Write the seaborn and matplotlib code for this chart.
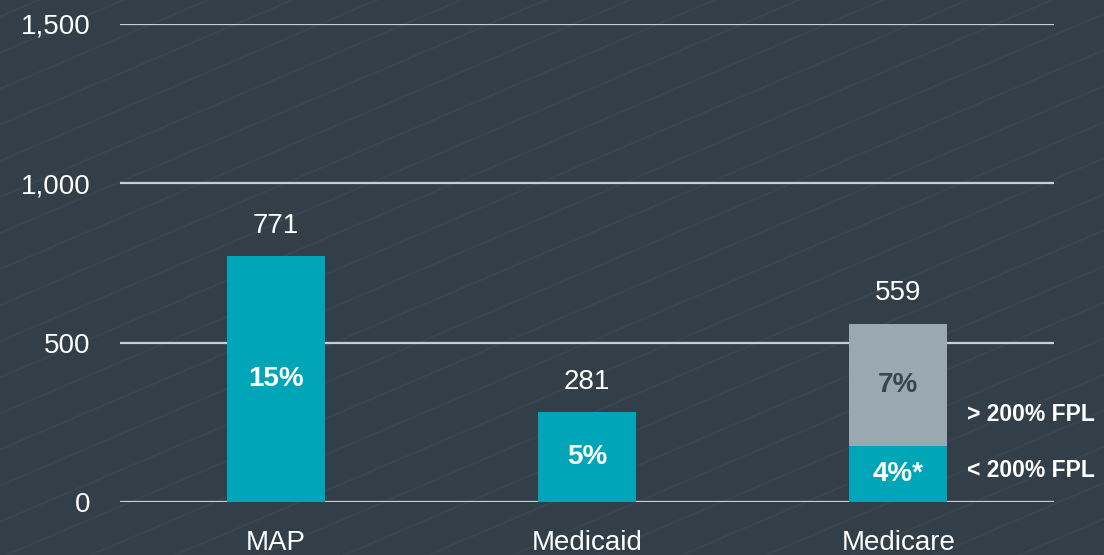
import numpy as np
import pandas as pd
import matplotlib
matplotlib.use("Agg")
import matplotlib.pyplot as plt
import seaborn as sns
from matplotlib.lines import Line2D

# chart values
categories = ["MAP", "Medicaid", "Medicare"]
totals = [771, 281, 559]
below_200 = [771, 281, 176]
below_share = ["15%", "5%", "4%*"]
above_share = ["", "", "7%"]
fpl_labels = ["> 200% FPL", "< 200% FPL"]
y_ticks = [0, 500, 1000, 1500]

bg = "#333f48"
teal = "#00a6b8"
gray = "#9aa8b2"
grid = "#c9ced2"

sns.set_theme(style="dark")
plt.rcParams["font.family"] = ["Liberation Sans", "DejaVu Sans"]

df = pd.DataFrame({"category": categories, "total": totals, "below": below_200})

fig = plt.figure(figsize=(11.04, 5.55), dpi=100, facecolor=bg)
ax = fig.add_axes([0.1087, 0.0955, 0.846, 0.8613])
ax.set_facecolor("none")

# faint diagonal texture on the background
for k in np.arange(-1.5, 1.2, 0.065):
    fig.add_artist(Line2D([0, 1], [k, k + 0.85], color="#39454e", lw=1.5,
                          transform=fig.transFigure, zorder=-5))

for t in y_ticks:
    ax.axhline(t, color=grid, lw=1.6, zorder=0)

# stacked bars: totals first (upper segment), then the lower part over it
sns.barplot(data=df, x="category", y="total", hue="category",
            palette=[teal, teal, gray], width=0.315, legend=False,
            saturation=1, linewidth=0, ax=ax, zorder=2)
sns.barplot(data=df, x="category", y="below", color=teal, width=0.315,
            saturation=1, linewidth=0, ax=ax, zorder=3)

for i, (tot, low) in enumerate(zip(totals, below_200)):
    ax.annotate(f"{tot:,}", (i, tot), xytext=(0, 22), textcoords="offset points",
                ha="center", va="center", color="white", fontsize=20)
    ax.text(i, low / 2, below_share[i], ha="center", va="center",
            color="white", fontsize=20, fontweight="bold", zorder=4)
    if above_share[i]:
        ax.text(i, (low + tot) / 2, above_share[i], ha="center", va="center",
                color="#3a454e", fontsize=20, fontweight="bold", zorder=4)

ax.text(2.22, 273, fpl_labels[0], ha="left", va="center", color="white",
        fontsize=16.5, fontweight="bold", clip_on=False)
ax.text(2.22, 100, fpl_labels[1], ha="left", va="center", color="white",
        fontsize=16.5, fontweight="bold", clip_on=False)

ax.set_xlim(-0.5, 2.5)
ax.set_ylim(0, 1500)
ax.set_yticks(y_ticks)
ax.set_yticklabels([f"{t:,}" for t in y_ticks])
ax.tick_params(axis="y", colors="white", labelsize=20, pad=21, length=0)
ax.tick_params(axis="x", colors="white", labelsize=20, pad=20, length=0)
ax.set_xlabel("")
ax.set_ylabel("")
ax.grid(False)
for s in ax.spines.values():
    s.set_visible(False)

fig.savefig("out.png", dpi=100, facecolor=bg)
